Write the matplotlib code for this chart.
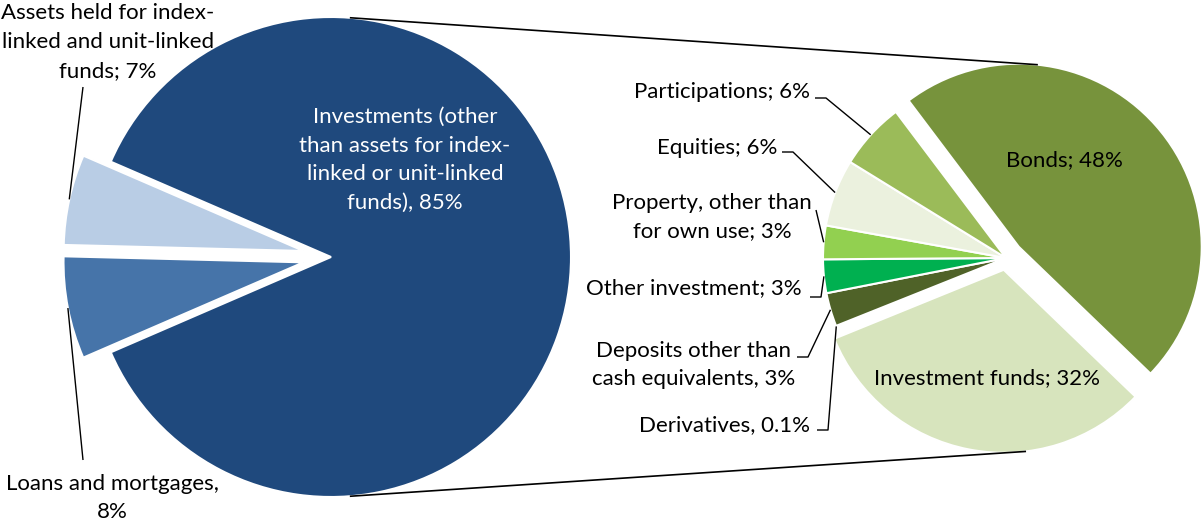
import numpy as np
import matplotlib
matplotlib.use("Agg")
import matplotlib.pyplot as plt

W, H = 1204, 527

# primary pie: total assets (slice sizes as drawn in the picture, labels as printed)
main_labels = ["Investments (other\nthan assets for index-\nlinked or unit-linked\nfunds), 85%",
               "Assets held for index-\nlinked and unit-linked\nfunds; 7%",
               "Loans and mortgages,\n8%"]
main_shares = [87.0, 6.1, 6.9]
main_colors = ["#1F497D", "#B9CDE5", "#4674A9"]

# secondary pie: breakdown of investments
inv_labels = ["Bonds; 48%", "Investment funds; 32%", "Derivatives, 0.1%",
              "Deposits other than\ncash equivalents, 3%", "Other investment; 3%",
              "Property, other than\nfor own use; 3%", "Equities; 6%", "Participations; 6%"]
inv_shares = [48, 32, 0.1, 3, 3, 3, 6, 6]
inv_colors = ["#77933C", "#D7E4BD", "#C3D69B", "#4F6228", "#00B050",
              "#92D050", "#EBF1DE", "#9BBB59"]

plt.rcParams['font.family'] = ['Lato', 'DejaVu Sans']
FS = 16
LS = 1.55

fig = plt.figure(figsize=(W / 100, H / 100), dpi=100)
ax = fig.add_axes([0, 0, 1, 1])

edge = dict(edgecolor='white', linewidth=1.5)
wl, _ = ax.pie(main_shares, colors=main_colors, center=(331, H - 257), radius=240,
               startangle=-main_shares[0] / sum(main_shares) * 180,
               explode=[0, 28, 28], wedgeprops=edge)
wr, _ = ax.pie(inv_shares, colors=inv_colors, center=(1006, H - 258), radius=183,
               startangle=127, counterclock=False,
               explode=[17, 12, 0, 0, 0, 0, 0, 0], wedgeprops=edge)

ax.set_xlim(0, W)
ax.set_ylim(0, H)
ax.set_aspect('equal')
ax.axis('off')


def at(w, ang):
    cx, cy = w.center
    t = np.radians(ang)
    return cx + w.r * np.cos(t), cy + w.r * np.sin(t)


def mid(w):
    return at(w, (w.theta1 + w.theta2) / 2)


def line(pts, lw=1.0):
    xs = [p[0] for p in pts]
    ys = [p[1] for p in pts]
    ax.plot(xs, ys, color='black', lw=lw, solid_capstyle='butt', zorder=5)


def label(x, y, s, ha='center', **kw):
    ax.text(x, H - y, s, ha=ha, va='center', fontsize=FS, linespacing=LS,
            multialignment='center', **kw)


# connector lines between the two pies
line([at(wl[0], 85.5), at(wr[0], 84)], lw=1.2)
line([at(wl[0], -85.5), at(wr[1], -83)], lw=1.2)

# primary pie labels
label(405, 160, main_labels[0], color='white')
label(108, 42, main_labels[1])
label(112, 498, main_labels[2])
line([(83, H - 87), mid(wl[1])])
line([(83, H - 460), mid(wl[2])])

# secondary pie labels inside
label(1064, 160, inv_labels[0])
label(987, 378, inv_labels[1])

# outside labels: (index, text x, text y, ha, leader start x, leader y, elbow)
outside = [
    (7, 810, 92, 'right', 815, 98, True),
    (6, 777, 148, 'right', 782, 152, True),
    (5, 712, 217, 'center', 816, 210, False),
    (4, 802, 288, 'right', 810, 297, True),
    (3, 694, 365, 'center', 797, 357, True),
    (2, 810, 425, 'right', 817, 430, True),
]
for i, tx, ty, ha, lx, ly, elbow in outside:
    label(tx, ty, inv_labels[i], ha=ha)
    pts = [(lx, H - ly)]
    if elbow:
        pts.append((lx + 11, H - ly))
    pts.append(mid(wr[i]))
    line(pts)

fig.savefig("out.png", dpi=100)
